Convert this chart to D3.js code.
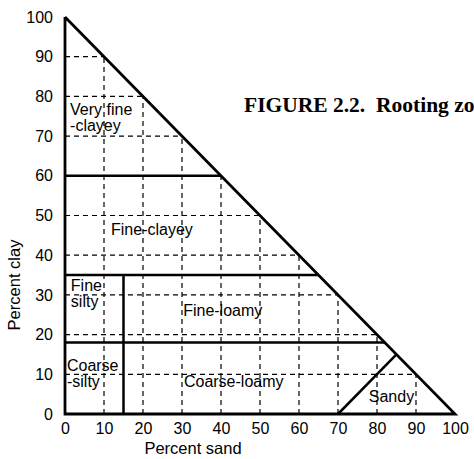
<!DOCTYPE html>
<html>
<head>
<meta charset="utf-8">
<script src="https://cdn.jsdelivr.net/npm/d3@7"></script>
<style>
  html, body { margin: 0; padding: 0; background: #fff; overflow: hidden; }
  svg { display: block; }
  .tick text, .axis-label, .zone-label { font-family: "Liberation Sans", Arial, sans-serif; fill: #000; }
  .title { font-family: "Liberation Serif", "Times New Roman", serif; font-weight: bold; white-space: pre; }
</style>
</head>
<body>
<div id="chart"></div>
<script>
// Rooting zones chart: percent sand vs percent clay, a triangle split into zones.

const width = 474;
const height = 459;

const tickValues = [0, 10, 20, 30, 40, 50, 60, 70, 80, 90, 100];
const gridValues = [10, 20, 30, 40, 50, 60, 70, 80, 90];

// triangle outline (sand, clay)
const outline = [[0, 100], [0, 0], [100, 0], [0, 100]];

// zone boundaries, each a pair of [sand, clay] points
const boundaries = [
  [[0, 60], [40, 60]],
  [[0, 35], [65, 35]],
  [[0, 18], [82, 18]],
  [[15, 0], [15, 35]],
  [[70, 0], [85, 15]]
];

const zoneNames = [["Very fine", "-clayey"], ["Fine-clayey"], ["Fine", "silty"], ["Coarse", "-silty"], ["Fine-loamy"], ["Coarse-loamy"], ["Sandy"]];
const zoneSand = [1.3, 11.8, 1.5, 0.5, 30.3, 30.5, 77.9];
const zoneClay = [75.3, 45.1, 30.9, 10.8, 24.6, 6.8, 3.0];

const x = d3.scaleLinear().domain([0, 100]).range([65, 455]);
const y = d3.scaleLinear().domain([0, 100]).range([414, 17]);

const svg = d3.select("#chart")
  .append("svg")
  .attr("width", width)
  .attr("height", height)
  .attr("viewBox", `0 0 ${width} ${height}`);

const line = d3.line()
  .x(d => x(d[0]))
  .y(d => y(d[1]));

// dashed grid, each line stops at the triangle's long side
svg.append("g")
  .selectAll("path.vgrid")
  .data(gridValues)
  .join("path")
  .attr("class", "vgrid")
  .attr("d", s => line([[s, 0], [s, 100 - s]]))
  .attr("fill", "none")
  .attr("stroke", "#000")
  .attr("stroke-width", 1.2)
  .attr("stroke-dasharray", "5,4");

svg.append("g")
  .selectAll("path.hgrid")
  .data(gridValues)
  .join("path")
  .attr("class", "hgrid")
  .attr("d", c => line([[0, c], [100 - c, c]]))
  .attr("fill", "none")
  .attr("stroke", "#000")
  .attr("stroke-width", 1.2)
  .attr("stroke-dasharray", "5,4");

// zone boundaries
svg.append("g")
  .selectAll("path")
  .data(boundaries)
  .join("path")
  .attr("d", line)
  .attr("fill", "none")
  .attr("stroke", "#000")
  .attr("stroke-width", 2.5);

// triangle outline
svg.append("path")
  .datum(outline)
  .attr("d", line)
  .attr("fill", "none")
  .attr("stroke", "#000")
  .attr("stroke-width", 2.8)
  .attr("stroke-linejoin", "miter");

// axes, labels only
svg.append("g")
  .attr("transform", `translate(${x(0)},0)`)
  .call(d3.axisLeft(y).tickValues(tickValues).tickSize(0).tickPadding(12))
  .call(g => g.select(".domain").remove())
  .selectAll("text")
  .attr("font-size", 16);

svg.append("g")
  .attr("transform", `translate(0,${y(0)})`)
  .call(d3.axisBottom(x).tickValues(tickValues).tickSize(0).tickPadding(9))
  .call(g => g.select(".domain").remove())
  .selectAll("text")
  .attr("font-size", 16);

svg.selectAll(".tick text").attr("font-family", null);

// zone labels
zoneNames.forEach((lines, i) => {
  const t = svg.append("text")
    .attr("class", "zone-label")
    .attr("x", x(zoneSand[i]))
    .attr("y", y(zoneClay[i]))
    .attr("font-size", 16);
  lines.forEach((txt, j) => {
    t.append("tspan")
      .attr("x", x(zoneSand[i]))
      .attr("dy", j === 0 ? 0 : 15.5)
      .text(txt);
  });
});

svg.append("text")
  .attr("class", "axis-label")
  .attr("transform", "rotate(-90)")
  .attr("x", -285)
  .attr("y", 20)
  .attr("text-anchor", "middle")
  .attr("font-size", 16.5)
  .text("Percent clay");

svg.append("text")
  .attr("class", "axis-label")
  .attr("x", 193)
  .attr("y", 454)
  .attr("text-anchor", "middle")
  .attr("font-size", 16.5)
  .text("Percent sand");

svg.append("text")
  .attr("class", "title")
  .attr("x", 244)
  .attr("y", 112)
  .attr("font-size", 21.5)
  .text("FIGURE 2.2.  Rooting zones");
</script>
</body>
</html>
